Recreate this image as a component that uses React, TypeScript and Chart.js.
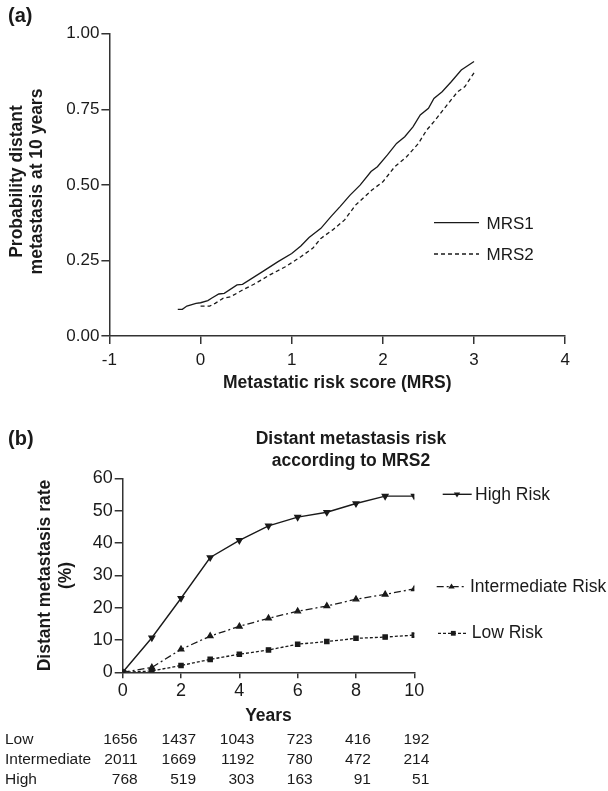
import React, { useEffect, useRef } from 'react';
import { Chart, registerables } from 'chart.js';

Chart.register(...registerables);

const FONT = '"Liberation Sans", Arial, Helvetica, sans-serif';
const INK = '#1a1a1a';
const AXIS = '#333333';

// ---- Panel (a) data ----
const mrs1X = [-0.25, -0.2, -0.15, -0.05, 0, 0.08, 0.12, 0.2, 0.26, 0.4, 0.46, 0.68, 0.85, 1.0, 1.1, 1.19, 1.32, 1.43, 1.53, 1.64, 1.75, 1.87, 1.94, 2.05, 2.15, 2.24, 2.33, 2.41, 2.5, 2.56, 2.65, 2.75, 2.86, 3.0];
const mrs1Y = [0.088, 0.088, 0.099, 0.108, 0.11, 0.117, 0.125, 0.139, 0.141, 0.169, 0.171, 0.213, 0.246, 0.273, 0.298, 0.326, 0.356, 0.395, 0.428, 0.466, 0.499, 0.544, 0.56, 0.599, 0.637, 0.659, 0.692, 0.731, 0.753, 0.786, 0.808, 0.841, 0.88, 0.908];
const mrs2X = [0, 0.1, 0.16, 0.25, 0.33, 0.46, 0.59, 0.76, 0.93, 1.1, 1.23, 1.32, 1.45, 1.58, 1.7, 1.88, 2.0, 2.13, 2.26, 2.39, 2.48, 2.56, 2.69, 2.82, 2.9, 3.0];
const mrs2Y = [0.099, 0.099, 0.108, 0.125, 0.13, 0.152, 0.172, 0.202, 0.229, 0.262, 0.29, 0.323, 0.351, 0.384, 0.433, 0.483, 0.51, 0.56, 0.593, 0.637, 0.681, 0.709, 0.759, 0.808, 0.825, 0.871];
const seriesA = ['MRS1', 'MRS2'];

// ---- Panel (b) data ----
const years = [0, 1, 2, 3, 4, 5, 6, 7, 8, 9, 10];
const highRisk = [0, 10.7, 22.9, 35.5, 40.8, 45.3, 48.0, 49.5, 52.2, 54.5, 54.5];
const intermediateRisk = [0, 1.5, 7.1, 11.2, 14.2, 16.7, 18.9, 20.5, 22.6, 24.1, 25.8];
const lowRisk = [0, 0.4, 2.1, 4.0, 5.6, 6.9, 8.7, 9.5, 10.5, 10.9, 11.5];
const seriesB = ['High Risk', 'Intermediate Risk', 'Low Risk'];

// ---- Numbers at risk ----
const tableYears = [0, 2, 4, 6, 8, 10];
const tableRowLabels = ['Low', 'Intermediate', 'High'];
const atRiskLow = [1656, 1437, 1043, 723, 416, 192];
const atRiskIntermediate = [2011, 1669, 1192, 780, 472, 214];
const atRiskHigh = [768, 519, 303, 163, 91, 51];

const INT_DASH = [7, 3, 2, 3];
const LOW_DASH = [3, 2];
const MRS2_DASH = [4, 3];

function drawMarker(ctx: CanvasRenderingContext2D, style: string, x: number, y: number, r: number) {
  ctx.save();
  ctx.setLineDash([]);
  ctx.fillStyle = INK;
  ctx.beginPath();
  if (style === 'rect') {
    ctx.rect(x - r * 0.8, y - r * 0.8, r * 1.6, r * 1.6);
  } else if (style === 'down') {
    ctx.moveTo(x - r, y - r * 0.6);
    ctx.lineTo(x + r, y - r * 0.6);
    ctx.lineTo(x, y + r);
    ctx.closePath();
  } else {
    ctx.moveTo(x - r, y + r * 0.6);
    ctx.lineTo(x + r, y + r * 0.6);
    ctx.lineTo(x, y - r);
    ctx.closePath();
  }
  ctx.fill();
  ctx.restore();
}

function text(ctx: CanvasRenderingContext2D, s: string, x: number, y: number, font: string, align: CanvasTextAlign = 'left', baseline: CanvasTextBaseline = 'middle') {
  ctx.save();
  ctx.font = font;
  ctx.fillStyle = INK;
  ctx.textAlign = align;
  ctx.textBaseline = baseline;
  ctx.fillText(s, x, y);
  ctx.restore();
}

function vtext(ctx: CanvasRenderingContext2D, s: string, x: number, y: number, font: string) {
  ctx.save();
  ctx.translate(x, y);
  ctx.rotate(-Math.PI / 2);
  ctx.font = font;
  ctx.fillStyle = INK;
  ctx.textAlign = 'center';
  ctx.textBaseline = 'middle';
  ctx.fillText(s, 0, 0);
  ctx.restore();
}

function legendLine(ctx: CanvasRenderingContext2D, x1: number, x2: number, y: number, dash: number[], w = 1.3) {
  ctx.save();
  ctx.strokeStyle = INK;
  ctx.lineWidth = w;
  ctx.setLineDash(dash);
  ctx.beginPath();
  ctx.moveTo(x1, y);
  ctx.lineTo(x2, y);
  ctx.stroke();
  ctx.restore();
}

const BOLD = `bold 17.5px ${FONT}`;

const plotA = {
  id: 'decorA',
  afterDraw(chart: any) {
    const ctx = chart.ctx as CanvasRenderingContext2D;
    const a = chart.chartArea;
    text(ctx, '(a)', 8, 16, `bold 20px ${FONT}`);
    text(ctx, 'Metastatic risk score (MRS)', (a.left + a.right) / 2, 383, BOLD, 'center');
    vtext(ctx, 'Probability distant', 17, 181.5, BOLD);
    vtext(ctx, 'metastasis at 10 years', 37, 181.5, BOLD);
    legendLine(ctx, 434, 479, 222.7, []);
    text(ctx, seriesA[0], 486.5, 224.5, `17px ${FONT}`);
    legendLine(ctx, 434, 479, 254, MRS2_DASH);
    text(ctx, seriesA[1], 486.5, 255.5, `17px ${FONT}`);
  },
};

const plotB = {
  id: 'decorB',
  afterDraw(chart: any) {
    const ctx = chart.ctx as CanvasRenderingContext2D;
    const a = chart.chartArea;
    const xs = chart.scales.x;
    text(ctx, '(b)', 8, 39, `bold 20px ${FONT}`);
    text(ctx, 'Distant metastasis risk', 351, 39, BOLD, 'center');
    text(ctx, 'according to MRS2', 351, 61, BOLD, 'center');
    vtext(ctx, 'Distant metastasis rate', 45, 175.5, BOLD);
    vtext(ctx, '(%)', 66, 175.5, BOLD);
    text(ctx, 'Years', (a.left + a.right) / 2, 316.5, BOLD, 'center');
    // legend
    const lf = `17.5px ${FONT}`;
    legendLine(ctx, 442.7, 471.7, 94.3, [], 1.4);
    drawMarker(ctx, 'down', 457, 94.3, 3.2);
    text(ctx, seriesB[0], 475, 95, lf);
    legendLine(ctx, 436.7, 465.7, 186.7, INT_DASH, 1.3);
    drawMarker(ctx, 'up', 451.5, 186.7, 3.2);
    text(ctx, seriesB[1], 470, 187, lf);
    legendLine(ctx, 438, 468, 233.3, LOW_DASH, 1.3);
    drawMarker(ctx, 'rect', 453.3, 233.3, 3);
    text(ctx, seriesB[2], 471.7, 233.5, lf);
    // numbers at risk table
    const tf = `15.5px ${FONT}`;
    const rows = [atRiskLow, atRiskIntermediate, atRiskHigh];
    const baselines = [344, 364.3, 384.3];
    rows.forEach((row, i) => {
      text(ctx, tableRowLabels[i], 5, baselines[i], tf, 'left', 'alphabetic');
      row.forEach((v, j) => {
        const px = xs.getPixelForValue(tableYears[j]) + 15;
        text(ctx, String(v), px, baselines[i], tf, 'right', 'alphabetic');
      });
    });
  },
};

function axisCommon(fontSize: number, tickLen: number, pad: number) {
  return {
    grid: { display: true, drawOnChartArea: false, drawTicks: true, tickLength: tickLen, color: AXIS, lineWidth: 1.5 },
    border: { display: true, color: AXIS, width: 1.5 },
    ticks: { color: INK, font: { family: FONT, size: fontSize }, padding: pad },
  };
}

export default function App() {
  const refA = useRef<HTMLCanvasElement>(null);
  const refB = useRef<HTMLCanvasElement>(null);

  useEffect(() => {
    const baseA = axisCommon(17, 8, 6);
    const yA = axisCommon(17, 8, 2);
    const chartA = new Chart(refA.current as HTMLCanvasElement, {
      type: 'line',
      data: {
        datasets: [
          {
            label: seriesA[0],
            data: mrs1X.map((x, i) => ({ x, y: mrs1Y[i] })),
            borderColor: INK,
            borderWidth: 1.3,
            pointRadius: 0,
            fill: false,
          },
          {
            label: seriesA[1],
            data: mrs2X.map((x, i) => ({ x, y: mrs2Y[i] })),
            borderColor: INK,
            borderWidth: 1.3,
            borderDash: MRS2_DASH,
            pointRadius: 0,
            fill: false,
          },
        ],
      },
      options: {
        responsive: false,
        animation: false,
        layout: { padding: { left: 0, top: 33.7, right: 42.8, bottom: 0 } },
        plugins: { legend: { display: false }, tooltip: { enabled: false }, title: { display: false } },
        scales: {
          x: {
            type: 'linear',
            min: -1,
            max: 4,
            ...baseA,
            ticks: { ...baseA.ticks, stepSize: 1 },
            afterFit: (s: any) => { s.height = 64; },
          },
          y: {
            type: 'linear',
            min: 0,
            max: 1,
            ...yA,
            ticks: { ...yA.ticks, stepSize: 0.25, callback: (v: any) => Number(v).toFixed(2) },
            afterFit: (s: any) => { s.width = 109.4; },
          },
        },
      } as any,
      plugins: [plotA],
    });

    const xB = axisCommon(18, 6, 2);
    const yB = axisCommon(18, 8, 2);
    const chartB = new Chart(refB.current as HTMLCanvasElement, {
      type: 'line',
      data: {
        datasets: [
          {
            label: seriesB[0],
            data: years.map((x, i) => ({ x, y: highRisk[i] })),
            borderColor: INK,
            backgroundColor: INK,
            borderWidth: 1.4,
            pointStyle: 'triangle',
            rotation: 180,
            pointRadius: 3.2,
            fill: false,
          },
          {
            label: seriesB[1],
            data: years.map((x, i) => ({ x, y: intermediateRisk[i] })),
            borderColor: INK,
            backgroundColor: INK,
            borderWidth: 1.3,
            borderDash: INT_DASH,
            pointStyle: 'triangle',
            pointRadius: 3.2,
            fill: false,
          },
          {
            label: seriesB[2],
            data: years.map((x, i) => ({ x, y: lowRisk[i] })),
            borderColor: INK,
            backgroundColor: INK,
            borderWidth: 1.3,
            borderDash: LOW_DASH,
            pointStyle: 'rect',
            pointRadius: 3,
            fill: false,
          },
        ],
      },
      options: {
        responsive: false,
        animation: false,
        layout: { padding: { left: 0, top: 78.3, right: 193.7, bottom: 0 } },
        plugins: { legend: { display: false }, tooltip: { enabled: false }, title: { display: false } },
        scales: {
          x: {
            type: 'linear',
            min: 0,
            max: 10,
            ...xB,
            ticks: { ...xB.ticks, stepSize: 2 },
            afterFit: (s: any) => { s.height = 118.7; },
          },
          y: {
            type: 'linear',
            min: 0,
            max: 60,
            ...yB,
            ticks: { ...yB.ticks, stepSize: 10 },
            afterFit: (s: any) => { s.width = 122.7; },
          },
        },
      } as any,
      plugins: [plotB],
    });

    return () => {
      chartA.destroy();
      chartB.destroy();
    };
  }, []);

  return (
    <div style={{ position: 'absolute', left: 0, top: 0, width: 608, height: 791, background: '#fff' }}>
      <canvas ref={refA} width={608} height={400} style={{ position: 'absolute', left: 0, top: 0, width: 608, height: 400 }} />
      <canvas ref={refB} width={608} height={391} style={{ position: 'absolute', left: 0, top: 400, width: 608, height: 391 }} />
    </div>
  );
}
